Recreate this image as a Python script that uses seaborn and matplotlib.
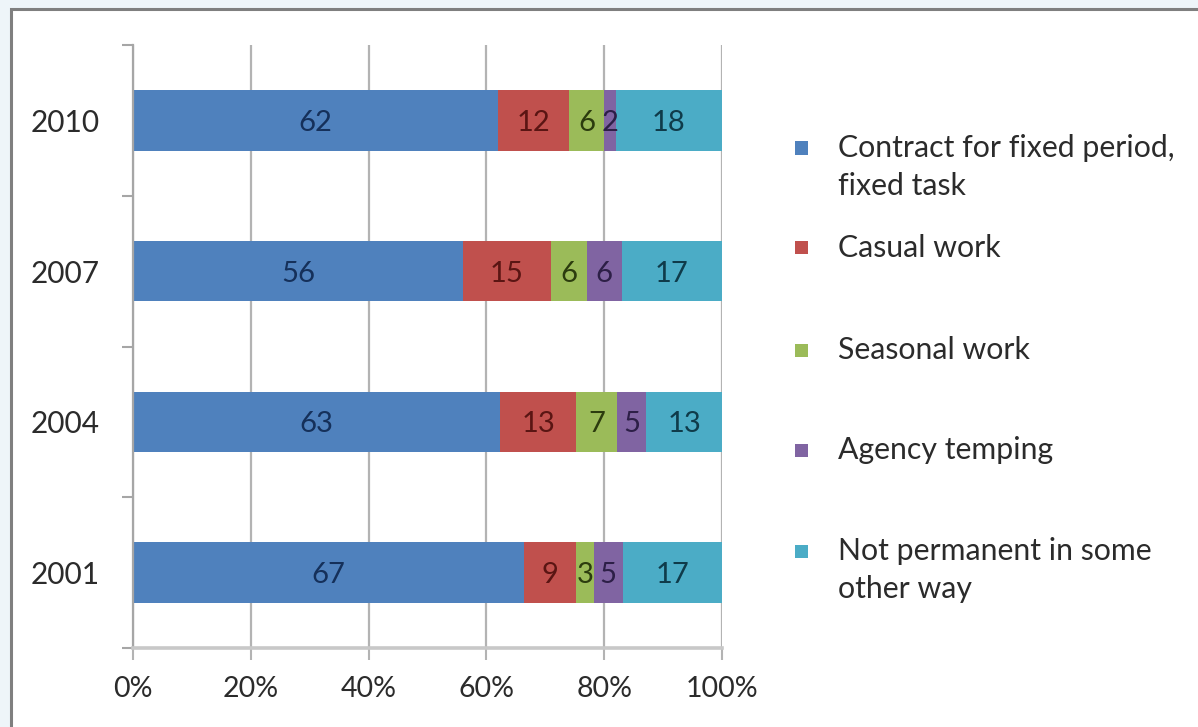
import numpy as np
import pandas as pd
import matplotlib
matplotlib.use("Agg")
import matplotlib.pyplot as plt
from matplotlib.patches import Rectangle
import seaborn as sns

# Forms of temporary employment, share of each form per survey year
years = ["2010", "2007", "2004", "2001"]
contract_fixed = [62, 56, 63, 67]
casual_work = [12, 15, 13, 9]
seasonal_work = [6, 6, 7, 3]
agency_temping = [2, 6, 5, 5]
not_permanent_other = [18, 17, 13, 17]

series_labels = [
    "Contract for fixed period,\nfixed task",
    "Casual work",
    "Seasonal work",
    "Agency temping",
    "Not permanent in some\nother way",
]
series_values = [contract_fixed, casual_work, seasonal_work, agency_temping, not_permanent_other]
x_tick_values = [0, 20, 40, 60, 80, 100]
x_tick_labels = ["0%", "20%", "40%", "60%", "80%", "100%"]

fill_colors = ["#4F81BD", "#C0504D", "#9BBB59", "#8064A2", "#4BACC6"]
text_colors = ["#15305A", "#5A1513", "#2C3C0E", "#2D1F47", "#0F3B4A"]

sns.set_theme(style="white")
plt.rcParams["font.family"] = ["Lato", "DejaVu Sans"]

W, H = 1198, 727
fig = plt.figure(figsize=(W / 100, H / 100), dpi=100)
fig.patch.set_facecolor("#EEF5F9")

# white chart area with a grey frame
fig.add_artist(Rectangle((11 / W, -0.05), 1.2, 1 - 8.5 / H + 0.05,
                         transform=fig.transFigure, facecolor="white",
                         edgecolor="#7F7F7F", linewidth=2.2, zorder=0))

ax = fig.add_axes([133 / W, 1 - 648 / H, (722 - 133) / W, (648 - 45) / H])
ax.set_facecolor("none")

# long table with normalised shares (100% stacked) and cumulative ends
rows = []
for s_idx, (name, vals) in enumerate(zip(series_labels, series_values)):
    for y_idx, yr in enumerate(years):
        rows.append({"year": yr, "series": s_idx, "value": vals[y_idx]})
df = pd.DataFrame(rows)
totals = df.groupby("year")["value"].transform("sum")
df["share"] = df["value"] / totals * 100
df["cum_end"] = df.groupby("year")["share"].cumsum()
df["mid"] = df["cum_end"] - df["share"] / 2

# draw stacked bars: longest cumulative segment first, earlier segments on top
for s_idx in reversed(range(len(series_labels))):
    sub = df[df["series"] == s_idx]
    sns.barplot(data=sub, x="cum_end", y="year", order=years, orient="h",
                color=fill_colors[s_idx], saturation=1, width=0.4,
                errorbar=None, linewidth=0, ax=ax, zorder=2)

# value labels in the middle of each segment
for _, r in df.iterrows():
    ax.text(r["mid"], years.index(r["year"]), f"{r['value']}",
            ha="center", va="center_baseline", fontsize=21,
            color=text_colors[int(r["series"])], zorder=3)

ax.set_xlim(0, 100)
ax.set_ylim(3.5, -0.5)
ax.set_xticks(x_tick_values)
ax.set_xticklabels(x_tick_labels)
ax.set_xlabel("")
ax.set_ylabel("")

ax.xaxis.grid(True, color="#B3B3B3", linewidth=1.6)
ax.yaxis.grid(False)
ax.set_axisbelow(True)

for side in ["top", "right"]:
    ax.spines[side].set_visible(False)
ax.spines["left"].set_color("#A6A6A6")
ax.spines["left"].set_linewidth(1.6)
ax.spines["bottom"].set_color("#C8C8C8")
ax.spines["bottom"].set_linewidth(2.6)

ax.tick_params(axis="x", which="major", direction="out", length=8.5, width=1.5,
               color="#B3B3B3", pad=12, labelsize=20.5, labelcolor="#2B2B2B", bottom=True)
ax.tick_params(axis="y", which="major", length=0, pad=24, labelsize=21.5,
               labelcolor="#2B2B2B", left=True)
ax.set_yticks(np.arange(-0.5, 4, 1), minor=True)
ax.tick_params(axis="y", which="minor", direction="out", length=8, width=1.5,
               color="#A6A6A6", left=True)

# legend at the right: squares with labels, spaced as in the chart
legend_centres = [148, 248, 350, 450, 551]
line_step = 38
for s_idx, label in enumerate(series_labels):
    cy = legend_centres[s_idx]
    fig.add_artist(Rectangle((795 / W, 1 - (cy + 6.5) / H), 13 / W, 13 / H,
                             transform=fig.transFigure, facecolor=fill_colors[s_idx],
                             edgecolor="none", zorder=3))
    for l_idx, line in enumerate(label.split("\n")):
        fig.text(838 / W, 1 - (cy + l_idx * line_step) / H, line,
                 ha="left", va="center", fontsize=21.8, color="#2B2B2B")

fig.savefig("out.png", dpi=100, facecolor=fig.get_facecolor())
